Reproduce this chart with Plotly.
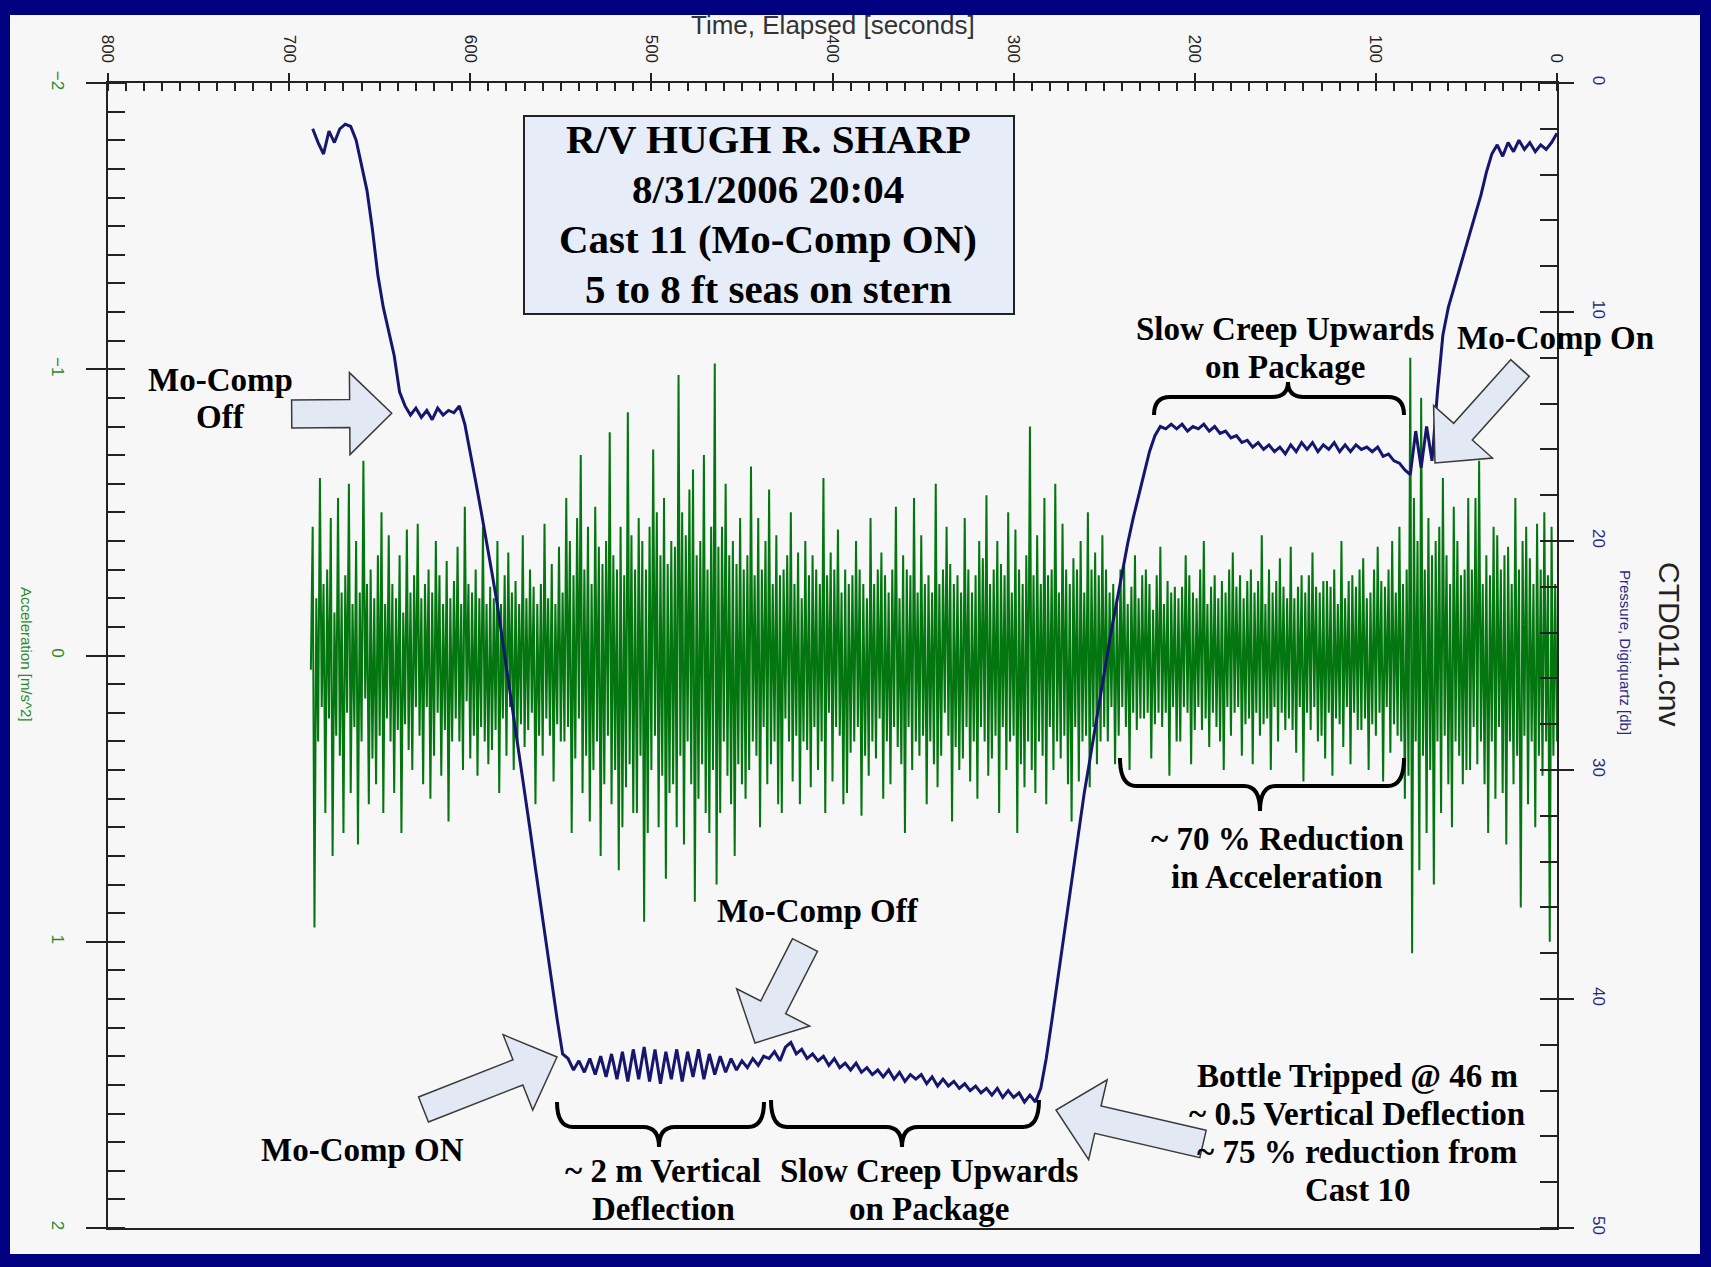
import math
import plotly.graph_objects as go

# ---------------- data ----------------
TIME_TICKS = [800, 700, 600, 500, 400, 300, 200, 100, 0]
ACC_TICKS = [-2, -1, 0, 1, 2]
PRES_TICKS = [0, 10, 20, 30, 40, 50]

# acceleration in hundredths of m/s^2, one value per second from t = 688 s to t = 0 s
ACC_START = 688
ACC_STEP = 1
acceleration_cms2 = [
    5, -45, 95, -20, 30, -62, 18, -25, 55, -30, 22, -48, 70, -15, 28, -55, 35, -22, 62, -28,
    20, -60, 48, -18, 25, -40, 66, -22, 30, -68, 15, -25, 52, -30, 36, -20, 45, -35, 28, -50,
    55, -18, 22, -42, 30, -25, 48, -20, 26, -35, 62, -15, 24, -44, 33, -22, 40, -28, 18, -46,
    28, -20, 45, -25, 18, -30, 50, -22, 35, -40, 20, -28, 42, -18, 26, -33, 58, -20, 30, -26,
    22, -38, 30, -18, 40, -52, 16, -25, 36, -22, 28, -30, 42, -20, 25, -45, 30, -18, 38, -24,
    33, -20, 26, -40, 48, -18, 22, -28, 35, -36, 18, -22, 40, -26, 30, -18, 24, -42, 32, -20,
    26, -30, 20, -24, 52, -18, 28, -25, 35, -46, 22, -20, 28, -32, 44, -18, 24, -38, 30, -22,
    30, -55, 25, -40, 62, -28, 36, -48, 22, -70, 48, -30, 35, -45, 58, -25, 40, -52, 30, -38,
    70, -32, 45, -40, 28, -78, 52, -35, 40, -30, 75, -45, 60, -28, 46, -85, 38, -42, 55, -30,
    55, -48, 35, -40, 93, -30, 62, -45, 40, -72, 28, -50, 60, -35, 42, -55, 78, -32, 48, -40,
    45, -38, 60, -98, 35, -50, 66, -42, 30, -58, 45, -65, 86, -35, 50, -40, 38, -70, 55, -30,
    62, -45, 40, -102, 80, -38, 55, -45, 30, -60, 42, -35, 52, -40, 70, -32, 38, -48, 45, -30,
    50, -35, 40, -66, 30, -28, 35, -48, 60, -30, 25, -40, 45, -58, 38, -25, 30, -42, 52, -28,
    55, -30, 22, -35, 30, -50, 44, -25, 28, -36, 52, -20, 30, -40, 33, -28, 46, -35, 25, -30,
    40, -25, 30, -62, 55, -28, 20, -36, 44, -30, 25, -44, 28, -22, 52, -30, 48, -25, 34, -28,
    30, -40, 25, -30, 56, -25, 35, -20, 42, -48, 30, -25, 36, -30, 22, -36, 50, -28, 30, -22,
    45, -30, 25, -52, 32, -20, 38, -35, 62, -30, 25, -28, 40, -55, 30, -22, 35, -42, 28, -25,
    52, -28, 30, -22, 38, -60, 46, -25, 35, -30, 20, -45, 28, -32, 58, -25, 32, -28, 40, -22,
    36, -48, 25, -30, 44, -22, 30, -28, 50, -40, 25, -34, 30, -56, 42, -25, 36, -30, 28, -40,
    55, -32, 25, -28, 40, -50, 30, -22, 28, -44, 62, -30, 38, -25, 46, -35, 30, -80, 40, -28,
    48, -42, 30, -25, 35, -55, 52, -28, 25, -30, 40, -60, 30, -22, 36, -46, 28, -30, 45, -25,
    58, -34, 25, -30, 44, -40, 30, -22, 28, -50, 46, -30, 25, -36, 38, -28, 30, -42, 25, -30,
    30, -22, 18, -25, 38, -20, 28, -30, 18, -32, 25, -18, 40, -24, 20, -35, 26, -20, 22, -28,
    22, -30, 20, -25, 36, -16, 24, -28, 20, -38, 25, -18, 20, -26, 42, -22, 18, -24, 30, -20,
    30, -24, 18, -35, 20, -28, 38, -22, 26, -20, 18, -30, 26, -40, 22, -18, 32, -24, 20, -28,
    25, -20, 30, -26, 40, -22, 18, -30, 28, -36, 20, -24, 18, -28, 35, -20, 24, -26, 22, -30,
    38, -22, 20, -26, 28, -42, 24, -18, 22, -30, 40, -22, 18, -26, 30, -34, 20, -24, 26, -20,
    22, -38, 26, -20, 34, -24, 18, -28, 44, -22, 20, -28, 26, -36, 18, -24, 30, -22, 28, -26,
    36, -26, 20, -24, 42, -30, 22, -18, 24, -40, 32, -20, 18, -26, 38, -28, 20, -24, 26, -30,
    26, -34, 22, -20, 40, -22, 24, -30, 28, -38, 20, -26, 44, -24, 18, -30, 34, -40, 24, -22,
    28, -45, 30, -25, 50, -30, 42, -104, 104, -55, 30, -40, 75, -90, 35, -30, 62, -48, 40, -35,
    80, -40, 30, -45, 55, -62, 28, -35, 45, -25, 60, -52, 30, -40, 35, -28, 45, -30, 40, -55,
    40, -30, 25, -55, 38, -68, 30, -25, 45, -35, 62, -28, 30, -45, 50, -42, 25, -30, 48, -35,
    66, -38, 30, -25, 45, -55, 35, -30, 88, -40, 28, -45, 52, -34, 30, -25, 60, -46, 35, -30,
    42, -50, 30, -28, 100, -45, 35, -25, 30,
]

# pressure, Digiquartz [db], one value every 3 s; the last value is at t = 0 s
PRES_STEP = 3
pressure = [
    # 687 .. 666 (surface)
    2.0, 2.6, 3.1, 2.1, 2.6, 2.0, 1.8, 1.9,
    # 663 .. 639 (descent)
    2.5, 3.6, 4.7, 6.4, 8.4, 9.8, 10.9, 11.9, 13.5,
    # 636 .. 606 (hold, Mo-Comp off)
    14.1, 14.5, 14.2, 14.6, 14.3, 14.7, 14.2, 14.5, 14.3, 14.4, 14.1,
    # 603 .. 549 (descent)
    14.9, 16.1, 17.4, 18.7, 20.0, 21.4, 22.8, 24.4, 26.0, 27.6,
    29.3, 30.9, 32.6, 34.3, 36.0, 37.7, 39.3, 40.9, 42.4,
    # 546 .. 438 (bottom, Mo-Comp on)
    42.6, 43.1, 42.7, 43.2, 42.6, 43.3, 42.5, 43.4, 42.4, 43.5,
    42.3, 43.6, 42.2, 43.5, 42.1, 43.6, 42.2, 43.7, 42.3, 43.5,
    42.2, 43.6, 42.3, 43.4, 42.2, 43.5, 42.4, 43.3, 42.5, 43.2,
    42.6, 43.1, 42.7, 43.0, 42.6, 42.9, 42.5,
    # 435 .. 288 (slow creep)
    42.6, 42.3, 42.7, 42.1, 41.9, 42.4, 42.2, 42.6, 42.4, 42.7,
    42.5, 42.9, 42.6, 43.0, 42.8, 43.1, 42.8, 43.2, 43.0, 43.3,
    43.1, 43.4, 43.1, 43.5, 43.2, 43.6, 43.3, 43.5, 43.3, 43.7,
    43.4, 43.8, 43.5, 43.8, 43.6, 43.9, 43.7, 44.0, 43.8, 44.1,
    43.9, 44.2, 43.9, 44.3, 44.0, 44.3, 44.1, 44.5, 44.2, 44.5,
    # 285 .. 222 (ascent)
    43.9, 42.6, 41.0, 39.3, 37.6, 35.9, 34.2, 32.6, 31.0, 29.6,
    28.1, 26.7, 25.3, 23.9, 22.6, 21.3, 20.1, 19.0, 18.0, 17.0,
    16.1, 15.4,
    # 219 .. 81 (hold)
    15.0, 15.1, 14.9, 15.1, 14.9, 15.2, 15.0, 15.1, 14.9, 15.2,
    15.0, 15.3, 15.2, 15.5, 15.4, 15.7, 15.6, 15.9, 15.7, 16.0,
    15.8, 16.1, 15.9, 16.2, 15.8, 16.1, 15.7, 16.0, 15.7, 16.1,
    15.8, 16.0, 15.7, 16.1, 15.8, 16.1, 15.8, 16.0, 15.9, 16.1,
    15.9, 16.3, 16.2, 16.5, 16.6, 16.9, 17.1,
    # 78 .. 69 (Mo-Comp on)
    15.2, 16.8, 15.0, 16.5,
    # 66 .. 33 (ascent)
    13.5, 11.0, 9.8, 9.0, 8.2, 7.4, 6.6, 5.8, 4.9, 3.9, 3.1, 2.7,
    # 30 .. 0 (surface)
    3.2, 2.6, 3.0, 2.5, 2.9, 2.6, 3.0, 2.7, 2.9, 2.6, 2.2,
]

acceleration = [v / 100 for v in acceleration_cms2]
t_acc = [ACC_START - ACC_STEP * i for i in range(len(acceleration))]
t_pres = [PRES_STEP * (len(pressure) - 1 - i) for i in range(len(pressure))]

# ---------------- geometry (figure pixels) ----------------
W, H = 1711, 1267
PL, PR, PT, PB = 108, 1557, 83, 1228
PW, PH = PR - PL, PB - PT


def px(x):
    return (x - PL) / PW


def py(y):
    return (PB - y) / PH


NAVY = "#000080"
PANEL = "#f7f7f7"
GREEN = "rgb(4,118,16)"
BLUE = "rgb(22,22,110)"
ARROW_FILL = "#e2e9f5"
SERIF = "Liberation Serif, Times New Roman, serif"
SANS = "Liberation Sans, Arial, sans-serif"


def block_arrow(tail, tip, shaft_w, head_w, head_len):
    dx, dy = tip[0] - tail[0], tip[1] - tail[1]
    L = math.hypot(dx, dy)
    ux, uy = dx / L, dy / L
    nx, ny = -uy, ux
    bx, by = tip[0] - ux * head_len, tip[1] - uy * head_len
    pts = [
        (tail[0] + nx * shaft_w / 2, tail[1] + ny * shaft_w / 2),
        (bx + nx * shaft_w / 2, by + ny * shaft_w / 2),
        (bx + nx * head_w / 2, by + ny * head_w / 2),
        tip,
        (bx - nx * head_w / 2, by - ny * head_w / 2),
        (bx - nx * shaft_w / 2, by - ny * shaft_w / 2),
        (tail[0] - nx * shaft_w / 2, tail[1] - ny * shaft_w / 2),
    ]
    d = "M " + " L ".join(f"{px(x):.5f},{py(y):.5f}" for x, y in pts) + " Z"
    return dict(type="path", path=d, xref="paper", yref="paper",
                fillcolor=ARROW_FILL, line=dict(color="#3a3a3a", width=1.5),
                layer="above")


def brace(x1, x2, y_end, y_bar, y_tip, x_tip, r=16):
    def p(x, y):
        return f"{px(x):.5f},{py(y):.5f}"
    d = (f"M {p(x1, y_end)} Q {p(x1, y_bar)} {p(x1 + r, y_bar)} "
         f"L {p(x_tip - r, y_bar)} Q {p(x_tip, y_bar)} {p(x_tip, y_tip)} "
         f"Q {p(x_tip, y_bar)} {p(x_tip + r, y_bar)} "
         f"L {p(x2 - r, y_bar)} Q {p(x2, y_bar)} {p(x2, y_end)}")
    return dict(type="path", path=d, xref="paper", yref="paper",
                line=dict(color="black", width=4), layer="above")


def label(text, x, y, size=33, color="black", family=SERIF, bold=True,
          angle=0):
    return dict(text=text, x=px(x), y=py(y), xref="paper", yref="paper",
                showarrow=False, xanchor="center", yanchor="middle",
                textangle=angle, align="center",
                font=dict(family=family, size=size, color=color,
                          weight="bold" if bold else "normal"))


def lines(texts, x, y_first, step=38, size=33):
    return [label(t, x, y_first + i * step, size=size)
            for i, t in enumerate(texts)]


fig = go.Figure()
fig.add_trace(go.Scatter(x=t_acc, y=acceleration, mode="lines",
                         line=dict(color=GREEN, width=2), yaxis="y",
                         hoverinfo="skip", showlegend=False))
fig.add_trace(go.Scatter(x=t_pres, y=pressure, mode="lines",
                         line=dict(color=BLUE, width=3), yaxis="y2",
                         hoverinfo="skip", showlegend=False))

shapes = [
    dict(type="rect", xref="paper", yref="paper", x0=px(10), x1=px(1700),
         y0=py(15), y1=py(1254), fillcolor=PANEL, line=dict(width=0),
         layer="below"),
    dict(type="rect", xref="paper", yref="paper", x0=px(524), x1=px(1014),
         y0=py(116), y1=py(314), fillcolor="#e6ecf8",
         line=dict(color="#222", width=2), layer="above"),
    block_arrow((291.7, 414), (391.7, 413.3), 28, 82, 42),
    block_arrow((423.5, 1109.5), (557, 1057), 27, 81, 42),
    block_arrow((805, 945), (755, 1043), 28, 82, 40),
    block_arrow((1203, 1144), (1056, 1110), 28, 82, 43),
    block_arrow((1520, 368), (1435, 463), 25, 79, 42),
    brace(1154, 1404, 415, 397, 382, 1288),
    brace(1120, 1404, 758, 786, 811, 1260),
    brace(557, 764, 1102, 1127, 1147, 659),
    brace(771, 1039, 1100, 1127, 1147, 902),
]

annotations = []
annotations += lines(["R/V HUGH R. SHARP", "8/31/2006 20:04",
                      "Cast 11 (Mo-Comp ON)", "5 to 8 ft seas on stern"],
                     768, 139, step=50, size=41)
annotations += lines(["Mo-Comp", "Off"], 220, 380, step=37)
annotations += lines(["Slow Creep Upwards", "on Package"], 1285, 329)
annotations += lines(["Mo-Comp On"], 1555, 338)
annotations += lines(["~ 70 % Reduction", "in Acceleration"], 1277, 839)
annotations += lines(["Mo-Comp Off"], 818, 911)
annotations += lines(["Mo-Comp ON"], 362, 1150)
annotations += lines(["~ 2 m Vertical", "Deflection"], 663, 1171)
annotations += lines(["Slow Creep Upwards", "on Package"], 929, 1171)
annotations += lines(["Bottle Tripped @ 46 m", "~ 0.5 Vertical Deflection",
                      "~ 75 % reduction from", "Cast 10"], 1357, 1076)
annotations += [
    label("Time, Elapsed [seconds]", 833, 25, size=26, color="#333",
          family=SANS, bold=False),
    label("Acceleration [m/s^2]", 27, 654, size=15, color="#2a8a2a",
          family=SANS, bold=False, angle=90),
    label("Pressure, Digiquartz [db]", 1626, 652, size=15, color="#2a2a80",
          family=SANS, bold=False, angle=90),
    label("CTD011.cnv", 1670, 644, size=30, color="#222", family=SANS,
          bold=False, angle=90),
]

fig.update_layout(
    width=W, height=H,
    margin=dict(l=PL, r=W - PR, t=PT, b=H - PB, pad=0),
    paper_bgcolor=NAVY, plot_bgcolor=PANEL,
    showlegend=False,
    shapes=shapes, annotations=annotations,
    xaxis=dict(range=[800, 0], side="top", tickvals=TIME_TICKS,
               tickangle=90, tickfont=dict(family=SANS, size=17, color="#222"),
               ticks="outside", ticklen=8, tickwidth=2, tickcolor="#222",
               ticklabelstandoff=4,
               minor=dict(dtick=10, ticks="inside", ticklen=8, tickwidth=1.5,
                          tickcolor="#222"),
               showline=True, linecolor="#222", linewidth=2, mirror=True,
               showgrid=False, zeroline=False),
    yaxis=dict(range=[2, -2], tickvals=ACC_TICKS, tickangle=90,
               tickfont=dict(family=SANS, size=17, color="#2a8a2a"),
               ticks="outside", ticklen=20, tickwidth=2, tickcolor="#222",
               ticklabelstandoff=14,
               minor=dict(dtick=0.1, ticks="inside", ticklen=17,
                          tickwidth=1.5, tickcolor="#222"),
               showline=True, linecolor="#222", linewidth=2,
               showgrid=False, zeroline=False),
    yaxis2=dict(range=[50, 0], tickvals=PRES_TICKS, tickangle=90,
                overlaying="y", side="right",
                tickfont=dict(family=SANS, size=17, color="#2a2a80"),
                ticks="outside", ticklen=15, tickwidth=2, tickcolor="#222",
                ticklabelstandoff=12,
                minor=dict(dtick=2, ticks="inside", ticklen=17,
                           tickwidth=1.5, tickcolor="#222"),
                showline=True, linecolor="#222", linewidth=2,
                showgrid=False, zeroline=False),
)

fig.write_html(
    "out.html",
    config={"displayModeBar": False},
    post_script="document.body.style.margin='0';"
                "document.body.style.background='#000080';"
                "document.body.style.overflow='hidden';",
)
